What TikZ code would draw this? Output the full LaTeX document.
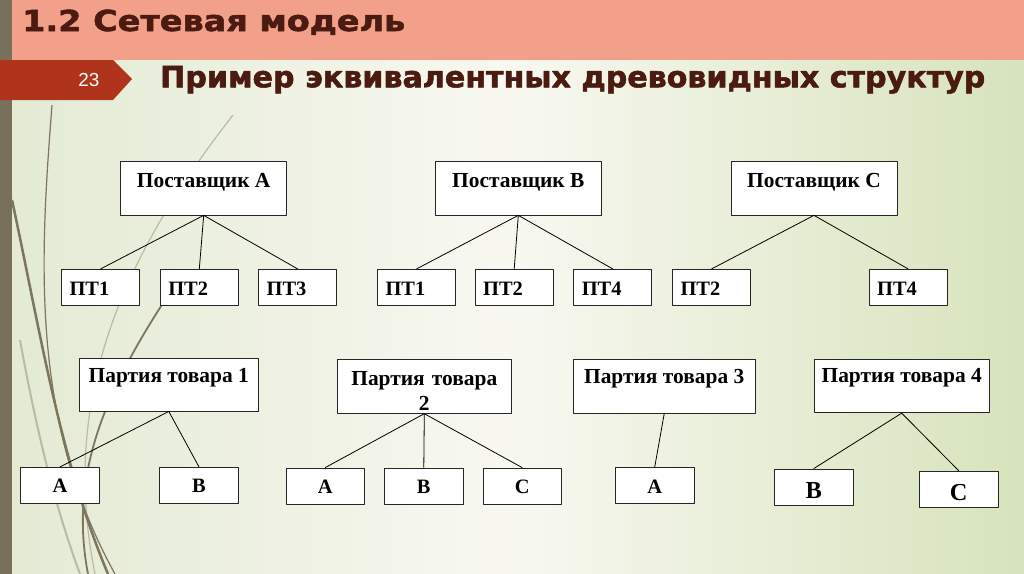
\documentclass[tikz,border=0pt]{standalone}
\usepackage{fontspec}
\setmainfont{Liberation Serif}
\newfontfamily\headfont{DejaVu Sans}[BoldFeatures={FakeBold=1.8}]
\newfontfamily\numfont{Liberation Sans}
\definecolor{barsalmon}{HTML}{F3A08A}
\definecolor{tabred}{HTML}{B0341C}
\definecolor{stripolive}{HTML}{78705A}
\definecolor{titlebrown}{HTML}{4B1A10}
\definecolor{bgleft}{HTML}{E3EAD3}
\definecolor{bgmid}{HTML}{F8F8F1}
\definecolor{bgright}{HTML}{D7E3BC}
\definecolor{stemolive}{HTML}{7D755C}
\definecolor{stemlight}{HTML}{B9BCA4}
\begin{document}
\begin{tikzpicture}[line join=bevel,
  box/.style={draw=black!85,fill=white,line width=0.8bp,inner xsep=0bp,inner ysep=0bp},
  supbox/.style={box,minimum width=166bp,text height=25.6bp,text depth=27.7bp,font=\bfseries\fontsize{21.5}{23}\selectfont},
  ptbox/.style={box,text width=62bp,inner xsep=8bp,align=left,text height=25.7bp,text depth=10bp,font=\bfseries\fontsize{20.5}{22}\selectfont},
  partbox/.style={box,font=\bfseries\fontsize{21.5}{26}\selectfont},
  letbox/.style={box,minimum width=78.6bp,text height=25.5bp,text depth=10.5bp,font=\bfseries\fontsize{20.5}{22}\selectfont},
  bigletbox/.style={box,minimum width=79.3bp,text height=29.3bp,text depth=6.7bp,font=\bfseries\fontsize{24.5}{26}\selectfont},
  edge/.style={black,line width=0.8bp},
]
\useasboundingbox (0,0) rectangle (1024bp,-574bp);
%% slide background
\shade [left color=bgleft,right color=bgright,middle color=bgmid] (0,0) rectangle (1024bp,-574bp);
\fill [barsalmon] (12bp,0) rectangle (1024bp,-60bp);
\fill [stripolive] (0,0) rectangle (12bp,-574bp);
\fill [tabred] (0,-60bp) -- (113bp,-60bp) -- (132bp,-79bp) -- (113bp,-100bp) -- (0,-100bp) -- cycle;
%% stems on the left
\draw [stemlight,line width=1.2bp] (233bp,-115bp) ..controls (120bp,-260bp) and (60bp,-400bp) .. (95bp,-574bp);
\draw [stemlight,line width=2bp] (20bp,-340bp) ..controls (40bp,-450bp) and (60bp,-520bp) .. (80bp,-574bp);
\draw [stemolive,line width=1.2bp] (52bp,-105bp) ..controls (40bp,-260bp) and (30bp,-420bp) .. (115bp,-574bp);
\draw [stemolive,line width=2.5bp] (12bp,-200bp) ..controls (40bp,-330bp) and (60bp,-460bp) .. (108bp,-574bp);
\draw [stemolive,line width=1.8bp] (165bp,-300bp) ..controls (100bp,-400bp) and (70bp,-480bp) .. (88bp,-574bp);
%% headings
\node (title) at (22bp,-31bp) [anchor=base west,inner sep=0bp,text=titlebrown,font=\headfont\bfseries\fontsize{29}{31}\selectfont] {\resizebox{383bp}{\height}{1.2 Сетевая модель}};
\node (slide_no) at (89bp,-80bp) [inner sep=0bp,text=white,font=\numfont\fontsize{19}{20}\selectfont] {23};
\node (subtitle) at (160bp,-87.3bp) [anchor=base west,inner sep=0bp,text=titlebrown,font=\headfont\bfseries\fontsize{29.5}{31}\selectfont] {\resizebox{825bp}{\height}{Пример эквивалентных древовидных структур}};
%% suppliers
\node (node_0) at (203.7bp,-188.3bp) [supbox] {Поставщик А};
  \node (node_1) at (518.3bp,-188.3bp) [supbox] {Поставщик В};
  \node (node_2) at (814.0bp,-188.3bp) [supbox] {Поставщик С};
  \node (node_3) at (100.5bp,-287.2bp) [ptbox] {ПТ1};
  \node (node_4) at (199.3bp,-287.2bp) [ptbox] {ПТ2};
  \node (node_5) at (297.7bp,-287.2bp) [ptbox] {ПТ3};
  \node (node_6) at (416.5bp,-287.2bp) [ptbox] {ПТ1};
  \node (node_7) at (514.2bp,-287.2bp) [ptbox] {ПТ2};
  \node (node_8) at (612.8bp,-287.2bp) [ptbox] {ПТ4};
  \node (node_9) at (711.5bp,-287.2bp) [ptbox] {ПТ2};
  \node (node_10) at (908.2bp,-287.2bp) [ptbox] {ПТ4};
  \draw [edge] (node_0.south) -- (node_3.north);
  \draw [edge] (node_0.south) -- (node_4.north);
  \draw [edge] (node_0.south) -- (node_5.north);
  \draw [edge] (node_1.south) -- (node_6.north);
  \draw [edge] (node_1.south) -- (node_7.north);
  \draw [edge] (node_1.south) -- (node_8.north);
  \draw [edge] (node_2.south) -- (node_9.north);
  \draw [edge] (node_2.south) -- (node_10.north);
%% lots
\node (node_11) at (168.8bp,-384.7bp) [partbox,minimum width=179bp,text height=24.4bp,text depth=28.3bp] {Партия товара 1};
  \node (node_12) at (424.3bp,-386.3bp) [partbox,text width=174bp,align=center,text height=25.7bp,text depth=28.3bp] {Партия товара\\2};
  \node (node_13) at (664.2bp,-386.3bp) [partbox,minimum width=181.7bp,text height=24bp,text depth=30bp] {Партия товара 3};
  \node (node_14) at (901.7bp,-385.9bp) [partbox,minimum width=175.3bp,text height=23.3bp,text depth=30.4bp] {Партия товара 4};
  \node (node_15) at (60.0bp,-485.3bp) [letbox] {А};
  \node (node_16) at (199.0bp,-485.3bp) [letbox] {В};
  \node (node_17) at (325.2bp,-486.0bp) [letbox] {А};
  \node (node_18) at (423.8bp,-486.0bp) [letbox] {В};
  \node (node_19) at (522.2bp,-486.0bp) [letbox] {С};
  \node (node_20) at (654.7bp,-485.5bp) [letbox] {А};
  \node (node_21) at (813.7bp,-487.0bp) [bigletbox] {В};
  \node (node_22) at (958.8bp,-489.2bp) [bigletbox] {С};
  \draw [edge] (node_11.south) -- (node_15.north);
  \draw [edge] (node_11.south) -- (node_16.north);
  \draw [edge] (node_12.south) -- (node_17.north);
  \draw [edge] (node_12.south) -- (node_18.north);
  \draw [edge] (node_12.south) -- (node_19.north);
  \draw [edge] (node_13.south) -- (node_20.north);
  \draw [edge] (node_14.south) -- (node_21.north);
  \draw [edge] (node_14.south) -- (node_22.north);
%
\end{tikzpicture}
\end{document}
